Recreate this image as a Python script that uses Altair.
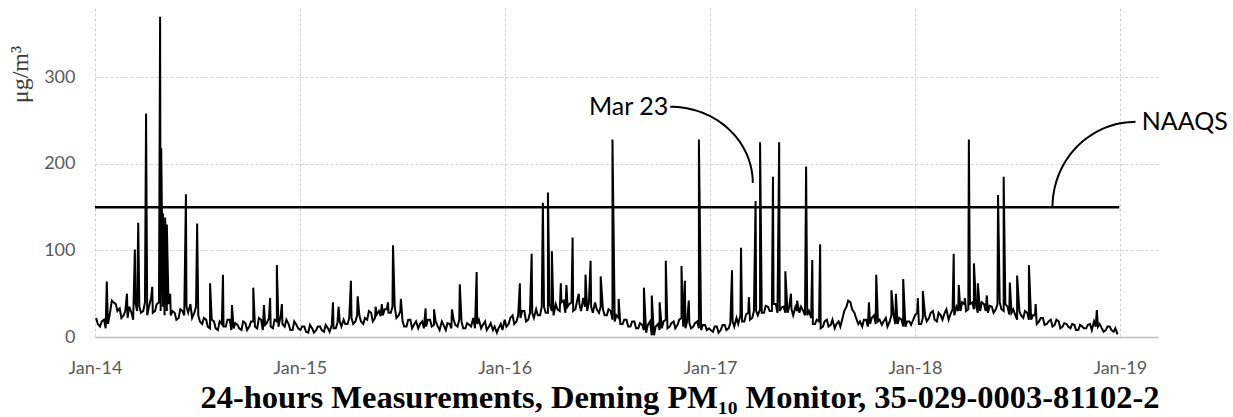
import altair as alt
import numpy as np
import pandas as pd

# Weekly background PM10 levels (µg/m³), one list per calendar year
base_2014 = [22, 12, 20, 15, 42, 38, 33, 25, 22, 28, 40, 35, 30, 25, 45, 30, 40, 35, 30, 25,
             28, 22, 30, 35, 38, 28, 25, 15, 20, 10, 18, 8, 15, 12, 20, 10, 14, 8, 16, 12,
             18, 10, 20, 14, 22, 10, 18, 25, 12, 15, 8, 14]
base_2015 = [8, 12, 5, 10, 8, 12, 6, 10, 14, 10, 18, 20, 15, 22, 18, 25, 15, 20, 28, 22,
             30, 25, 32, 28, 35, 25, 18, 12, 20, 15, 10, 18, 12, 20, 14, 12, 18, 8, 15, 20,
             12, 18, 10, 14, 22, 15, 10, 18, 12, 8, 5, 15]
base_2016 = [20, 15, 25, 18, 22, 30, 20, 28, 32, 25, 35, 28, 30, 38, 30, 42, 35, 40, 32, 38,
             45, 30, 35, 40, 28, 32, 25, 30, 18, 22, 15, 20, 12, 18, 10, 14, 5, 18, 2, 15,
             10, 20, 12, 18, 14, 22, 10, 16, 12, 18, 8, 14]
base_2017 = [10, 6, 12, 8, 14, 10, 18, 22, 25, 18, 28, 22, 30, 32, 28, 35, 30, 38, 30, 35,
             28, 32, 35, 28, 30, 25, 22, 15, 18, 12, 20, 14, 10, 18, 22, 35, 40, 28, 15, 12,
             20, 15, 25, 18, 14, 22, 18, 25, 15, 20, 12, 18]
base_2018 = [20, 28, 15, 25, 22, 30, 18, 25, 28, 20, 32, 35, 30, 38, 32, 40, 35, 30, 38, 28,
             35, 32, 40, 30, 35, 28, 25, 30, 22, 28, 20, 25, 18, 22, 15, 20, 14, 18, 12, 15,
             10, 14, 8, 12, 10, 15, 18, 12, 10, 8, 12, 6, 3]

# Mid-week readings between the weekly ones above
mid_2014 = [15, 18, 10, 25, 40, 30, 22, 30, 35, 20, 30, 28, 40, 35, 28, 38, 30, 25, 38, 30,
            20, 32, 25, 28, 22, 35, 18, 22, 12, 20, 10, 18, 12, 20, 8, 16, 10, 18, 8, 18,
            12, 22, 8, 16, 12, 20, 12, 15, 20, 8, 18, 10]
mid_2015 = [12, 6, 14, 5, 12, 8, 14, 6, 10, 16, 12, 15, 22, 15, 25, 18, 22, 30, 18, 26,
            24, 32, 28, 35, 22, 30, 12, 20, 10, 18, 15, 10, 20, 12, 18, 8, 14, 16, 10, 14,
            20, 10, 16, 12, 10, 20, 14, 8, 16, 12, 10, 8]
mid_2016 = [12, 22, 15, 25, 30, 18, 28, 22, 25, 35, 28, 38, 25, 32, 40, 28, 38, 30, 42, 30,
            35, 40, 28, 32, 35, 25, 32, 20, 25, 15, 20, 12, 18, 10, 16, 8, 14, 2, 12, 8,
            18, 10, 16, 10, 20, 12, 18, 10, 16, 10, 14, 8]
mid_2017 = [8, 12, 5, 14, 8, 16, 12, 15, 18, 26, 20, 30, 25, 28, 36, 30, 38, 28, 34, 28,
            35, 25, 30, 35, 25, 30, 15, 20, 10, 18, 12, 20, 15, 12, 30, 42, 32, 22, 18, 20,
            12, 22, 15, 20, 18, 12, 25, 15, 22, 12, 18, 14]
mid_2018 = [25, 15, 22, 18, 28, 20, 28, 20, 32, 26, 25, 30, 40, 30, 38, 32, 28, 40, 30, 36,
            28, 38, 32, 38, 26, 32, 20, 25, 30, 20, 25, 15, 22, 14, 18, 12, 20, 10, 16, 12,
            15, 8, 14, 10, 14, 8, 12, 15, 6, 12, 8, 10]

# Individual high days (date, µg/m³)
spike_dates = [
    "2014-01-22", "2014-02-27", "2014-03-13", "2014-03-19", "2014-04-02", "2014-04-13",
    "2014-04-27", "2014-04-29", "2014-05-02", "2014-05-06", "2014-05-09", "2014-05-15",
    "2014-06-12", "2014-07-02", "2014-07-25", "2014-08-17", "2014-09-02", "2014-10-10",
    "2014-10-29", "2014-11-09", "2014-11-21", "2014-11-30",
    "2015-03-01", "2015-03-11", "2015-04-02", "2015-04-14", "2015-05-16", "2015-05-27",
    "2015-06-07", "2015-06-16", "2015-06-30", "2015-08-13", "2015-08-28", "2015-09-29",
    "2015-10-13", "2015-11-12",
    "2016-01-28", "2016-02-18", "2016-03-09", "2016-03-18", "2016-03-25", "2016-04-10",
    "2016-04-20", "2016-05-01", "2016-05-12", "2016-05-24", "2016-06-02", "2016-06-20",
    "2016-07-11", "2016-07-22", "2016-09-05", "2016-09-19", "2016-10-03", "2016-10-14",
    "2016-11-11", "2016-11-17", "2016-11-24", "2016-12-12",
    "2017-02-09", "2017-02-25", "2017-03-11", "2017-03-23", "2017-03-31", "2017-04-23",
    "2017-05-04", "2017-05-15", "2017-05-25", "2017-06-05", "2017-06-21", "2017-07-02",
    "2017-07-16", "2017-10-11", "2017-10-24", "2017-11-20", "2017-11-28", "2017-12-11",
    "2018-01-06", "2018-01-15", "2018-03-11", "2018-03-20", "2018-03-31", "2018-04-07",
    "2018-04-16", "2018-04-23", "2018-05-09", "2018-05-29", "2018-06-08", "2018-06-19",
    "2018-07-02", "2018-07-23", "2018-08-04", "2018-11-21",
]
spike_values = [
    64, 50, 101, 132, 258, 58,
    370, 218, 143, 138, 130, 50,
    165, 131, 62, 72, 37, 57,
    37, 45, 83, 38,
    40, 35, 65, 47, 35, 38,
    40, 106, 44, 33, 32, 32,
    61, 75,
    62, 96, 155, 167, 99, 62,
    60, 115, 50, 72, 88, 70,
    228, 44, 57, 48, 40, 88,
    82, 65, 42, 228,
    77, 103, 46, 157, 225, 185,
    225, 76, 50, 42, 197, 89,
    107, 40, 72, 54, 50, 67,
    45, 53, 96, 60, 45, 228,
    85, 62, 48, 164, 185, 63,
    71, 83, 38, 31,
]

NAAQS = 150
naaqs_start, naaqs_end = "2014-01-01", "2018-12-31"

# Callout labels: text anchor (date, value) and the point the leader curves down to
mar23_label = ("2016-10-22", 266)
mar23_target = ("2017-03-18", 178)
naaqs_label = ("2019-02-09", 248)
naaqs_anchor = ("2019-01-29", 248.5)
naaqs_target = ("2018-09-03", NAAQS)

TITLE = "24-hours Measurements, Deming PM\u2081\u2080 Monitor, 35-029-0003-81102-2"

# ---- assemble the daily series ----
base_vals = base_2014 + base_2015 + base_2016 + base_2017 + base_2018
mid_vals = mid_2014 + mid_2015 + mid_2016 + mid_2017 + mid_2018
base_days = pd.date_range("2014-01-03", periods=len(base_vals), freq="7D")
mid_days = pd.date_range("2014-01-06", periods=len(mid_vals), freq="7D")
series = pd.concat([
    pd.DataFrame({"date": base_days, "pm10": base_vals}),
    pd.DataFrame({"date": mid_days, "pm10": mid_vals}),
    pd.DataFrame({"date": pd.to_datetime(spike_dates), "pm10": spike_values}),
]).sort_values("date", kind="stable")
series["date"] = series["date"].dt.strftime("%Y-%m-%d")


def leader(start, end):
    """Quarter-ellipse leader line: leaves `start` horizontally, meets `end` vertically."""
    t = np.linspace(0, np.pi / 2, 40)
    s = pd.Timestamp(start[0])
    e = pd.Timestamp(end[0])
    span = (e - s)
    xs = [s + span * float(np.sin(a)) for a in t]
    ys = end[1] + (start[1] - end[1]) * np.cos(t)
    return pd.DataFrame({"date": [d.strftime("%Y-%m-%dT%H:%M:%SZ") for d in xs],
                         "v": ys, "o": np.arange(len(t))})


lead1 = leader(mar23_label, mar23_target)
lead1["g"] = "mar23"
lead2 = leader(naaqs_anchor, naaqs_target)
lead2["g"] = "naaqs"
leaders = pd.concat([lead1, lead2])

labels = pd.DataFrame({
    "date": [mar23_label[0], naaqs_label[0]],
    "v": [mar23_label[1], naaqs_label[1]],
    "text": ["Mar 23", "NAAQS"],
    "align": ["right", "left"],
})

x_scale = alt.Scale(type="utc",
                    domain=[alt.DateTime(year=2014, month=1, date=1, utc=True),
                            alt.DateTime(year=2019, month=3, date=10, utc=True)])
y_scale = alt.Scale(domain=[0, 380], nice=False)

x_axis = alt.Axis(
    values=[alt.DateTime(year=y, month=1, date=1, utc=True) for y in range(2014, 2020)],
    format="%b-%y", title=None, ticks=False, grid=True, labelFlush=False,
    gridColor="#d2d2d2", gridDash=[3, 2], domainColor="#bdbdbd", domainWidth=1.5,
    labelFont="Lato", labelFontSize=18, labelColor="#5a5a5a", labelPadding=22,
)
y_axis = alt.Axis(
    values=[0, 100, 200, 300], ticks=False, domain=False, grid=True,
    gridColor="#d2d2d2", gridDash=[3, 2],
    labelFont="Lato", labelFontSize=18, labelColor="#5a5a5a", labelPadding=20,
    title="\u03bcg/m\u00b3", titleFont="Liberation Serif", titleFontSize=24,
    titleFontWeight="normal", titleColor="#3a3a3a", titleX=-75, titleY=66,
    titleAlign="center", titleBaseline="middle",
)

line = alt.Chart(series).mark_line(color="black", strokeWidth=2).encode(
    x=alt.X("date:T", scale=x_scale, axis=x_axis),
    y=alt.Y("pm10:Q", scale=y_scale, axis=y_axis),
)

naaqs_rule = alt.Chart(pd.DataFrame({"s": [naaqs_start], "e": [naaqs_end], "v": [NAAQS]})).mark_rule(
    color="black", strokeWidth=2.5
).encode(x="s:T", x2="e:T", y="v:Q")

leader_lines = alt.Chart(leaders).mark_line(color="black", strokeWidth=2).encode(
    x="date:T", y="v:Q", detail="g:N", order="o:Q"
)

label_right = alt.Chart(labels[labels["align"] == "right"]).mark_text(
    font="Lato", fontSize=25, color="black", align="right", baseline="middle", dx=-2
).encode(x="date:T", y="v:Q", text="text:N")
label_left = alt.Chart(labels[labels["align"] == "left"]).mark_text(
    font="Lato", fontSize=25, color="black", align="left", baseline="middle"
).encode(x="date:T", y="v:Q", text="text:N")

caption = alt.Chart(pd.DataFrame({"t": [TITLE]})).mark_text(
    font="Liberation Serif", fontSize=32.5, fontWeight="bold", color="black",
    align="center", baseline="middle"
).encode(text="t:N", x=alt.value(585), y=alt.value(390))

chart = alt.layer(line, naaqs_rule, leader_lines, label_right, label_left, caption).properties(
    width=1063, height=329,
    autosize=alt.AutoSizeParams(type="none"),
    padding={"left": 95, "top": 8, "right": 75, "bottom": 80},
).configure_view(stroke=None)

chart.save("out.html", embed_options={"renderer": "svg", "actions": False})
